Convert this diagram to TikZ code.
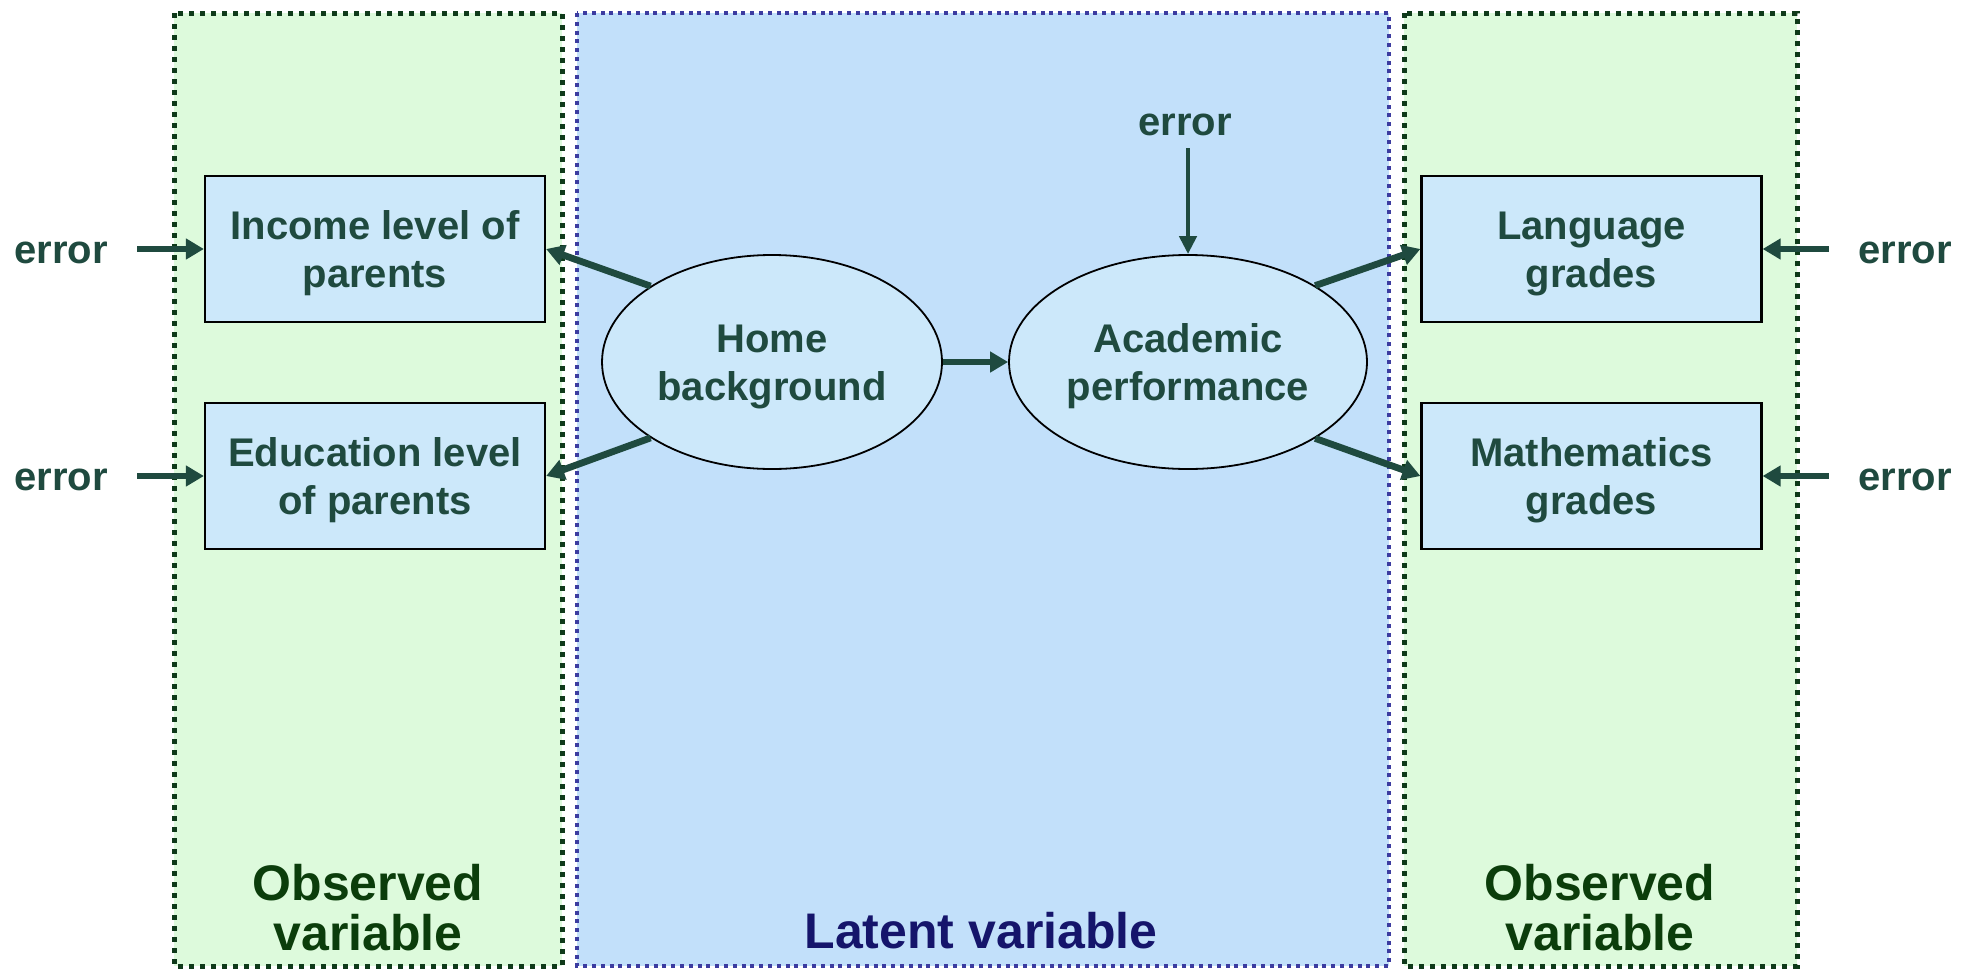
\documentclass[tikz,border=0pt]{standalone}
\usepackage{fontspec}
\setmainfont{Liberation Sans}
\usetikzlibrary{arrows.meta,shapes.geometric}
\definecolor{panelgreen}{HTML}{DDFADC}
\definecolor{panelblue}{HTML}{C2E0FA}
\definecolor{boxfill}{HTML}{CCE8FA}
\definecolor{ink}{HTML}{1F4A3F}
\definecolor{obsink}{HTML}{0B3D0B}
\definecolor{latink}{HTML}{15156B}
\definecolor{greenborder}{HTML}{0F3A1A}
\definecolor{blueborder}{HTML}{3C3CA0}
\newcommand\myTopGap{\rule{0pt}{19pt}}
\tikzset{
  greenpanel/.style={fill=panelgreen, draw=greenborder, line width=2.5pt, dash pattern=on 2.5pt off 3pt},
  bluepanel/.style={fill=panelblue, draw=blueborder, line width=2pt, dash pattern=on 2pt off 2.4pt},
  obsbox/.style={draw=black, line width=1.1pt, fill=boxfill, minimum width=170pt, minimum height=73pt,
     inner sep=0pt, align=center, text=ink,
     font=\fontsize{20}{24}\selectfont\bfseries},
  latent/.style={ellipse, draw=black, line width=0.9pt, fill=boxfill, minimum height=107pt,
     inner sep=0pt, align=center, text=ink,
     font=\fontsize{20}{24}\selectfont\bfseries},
  errlabel/.style={inner sep=0pt, text=ink, font=\fontsize{20}{24}\selectfont\bfseries},
  paneltitle/.style={inner sep=0pt, align=center, font=\fontsize{25}{25}\selectfont\bfseries},
  arr/.style={draw=ink, line width=3.4pt, -{Triangle[length=9pt,width=10pt]}},
  thinarr/.style={draw=ink, line width=2.2pt, -{Triangle[length=9pt,width=8.5pt]}}
}
\begin{document}
\begin{tikzpicture}[x=0.5pt,y=-0.5pt]
\useasboundingbox (0,0) rectangle (1973,969);
\fill[white] (0,0) rectangle (1973,969);
% panels
\path[greenpanel] (174,13) rectangle (562,966);
\path[bluepanel] (577,13) rectangle (1389,966);
\path[greenpanel] (1404,13) rectangle (1797,966);
% panel titles
\node[paneltitle, text=obsink] (obsL) at (368,908) {Observed\\variable};
\node[paneltitle, text=latink] (lat) at (981,931) {Latent variable};
\node[paneltitle, text=obsink] (obsR) at (1600,908) {Observed\\variable};
% observed boxes
\node[obsbox] (inc) at (375,249) {\myTopGap Income level of\\parents};
\node[obsbox] (edu) at (375,476) {\myTopGap Education level\\of parents};
\node[obsbox] (lang) at (1591.5,249) {\myTopGap Language\\grades};
\node[obsbox] (math) at (1591.5,476) {\myTopGap Mathematics\\grades};
% latent ellipses
\node[latent, minimum width=170pt] (home) at (772,362) {\myTopGap Home\\background};
\node[latent, minimum width=179pt] (acad) at (1188,362) {\myTopGap Academic\\performance};
% error labels
\node[errlabel] (e1) at (61,253) {error};
\node[errlabel] (e2) at (61,480) {error};
\node[errlabel] (e3) at (1905,253) {error};
\node[errlabel] (e4) at (1905,480) {error};
\node[errlabel] (e5) at (1185,125) {error};
% arrows
\draw[arr] ([xshift=14.5pt]e1.east |- inc.west) -- (inc.west);
\draw[arr] ([xshift=14.5pt]e2.east |- edu.west) -- (edu.west);
\draw[arr] ([xshift=-14.5pt]e3.west |- lang.east) -- (lang.east);
\draw[arr] ([xshift=-14.5pt]e4.west |- math.east) -- (math.east);
\draw[thinarr] ([yshift=-6pt]e5.south -| acad.north) -- (acad.north);
\draw[arr] (home.148) -- (inc.east);
\draw[arr] (home.212) -- (edu.east);
\draw[arr] (home.east) -- (acad.west);
\draw[arr] (acad.31) -- (lang.west);
\draw[arr] (acad.-31) -- (math.west);
\end{tikzpicture}
\end{document}
